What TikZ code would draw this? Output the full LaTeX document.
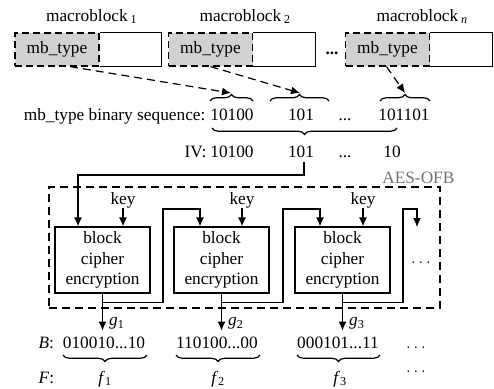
\documentclass[tikz,border=0pt]{standalone}
\usepackage{fontspec}
\setmainfont{Liberation Serif}
\usetikzlibrary{arrows.meta,decorations.pathreplacing,calc}

\begin{document}
\begin{tikzpicture}[x=1pt,y=-1pt,
  font=\fontsize{17.3}{20.5}\selectfont,
  line width=1.2pt,
  arr/.style={-{Latex[length=9pt,width=8pt]}},
  dasharr/.style={arr,dash pattern=on 8pt off 5pt},
  mbt/.style={draw,dash pattern=on 7pt off 4pt,fill=black!18,
    minimum width=84pt,minimum height=33pt,inner sep=0pt},
  mbrest/.style={minimum width=61pt,minimum height=33pt,inner sep=0pt},
  cipher/.style={draw,minimum width=95pt,minimum height=66pt,
    align=center,inner sep=0pt},
  brc/.style={decorate,decoration={brace,amplitude=6.5pt}},
  txt/.style={anchor=base,inner sep=1pt},
]
\useasboundingbox (0,0) rectangle (494,388);

% ---- macroblocks ----
\foreach \i/\cx/\sub in {1/57/1, 2/210.5/2, n/387.5/\textit{n}}{
  \node[mbt] (t\i) at (\cx,49.5) {mb\_type};
  \node[mbrest,anchor=west] (r\i) at (t\i.east) {};
  \draw (r\i.north west) -- (r\i.north east) -- (r\i.south east) -- (r\i.south west);
  \node[txt] (m\i) at ($(t\i.west)+(72.5,-28.5)$) {macroblock\rlap{\,\textsubscript{\sub}}};
}
\node[txt] (mdots) at (332,54) {\textbf{...}};

% ---- binary sequence ----
\node[anchor=base east,inner sep=1pt] (seqlbl) at (207,120) {mb\_type binary sequence:};
\node[txt] (s1) at (232,120) {10100};
\node[txt] (s2) at (301,120) {101};
\node[txt] (s3) at (345,120) {...};
\node[txt] (s4) at (404,120) {101101};

\coordinate (u1) at (231,93);
\coordinate (u2) at (300,93);
\coordinate (u3) at (405,93);
\draw[brc] (210,101) -- (253,101);
\draw[brc] (270,101) -- (329,101);
\draw[brc] (380,101) -- (430,101);
\draw[dasharr] ($(t1.south)+(13,0)$) -- (u1);
\draw[dasharr] (t2.south) -- (u2);
\draw[dasharr] ($(tn.south)+(-1,0)$) -- (u3);

\draw[brc] (397,128) -- (212,128);

% ---- IV ----
\node[anchor=base east,inner sep=1pt] (ivlbl) at (208,157) {IV:};
\node[txt] (iv1) at (232,157) {10100};
\node[txt] (iv2) at (301,157) {101};
\node[txt] (iv3) at (345,157) {...};
\node[txt] (iv4) at (392,157) {10};

% ---- AES-OFB ----
\node[draw,dash pattern=on 8pt off 5pt,minimum width=391pt,minimum height=121pt,inner sep=0pt]
  (ofb) at (244.5,247.5) {};
\node[anchor=base east,inner sep=0pt,text=black!55] (ofblbl) at (455,183) {AES-OFB};

\node[cipher] (b1) at (102.5,260) {block\\cipher\\encryption};
\node[cipher] (b2) at (221.5,260) {block\\cipher\\encryption};
\node[cipher] (b3) at (342.5,260) {block\\cipher\\encryption};

\foreach \i in {1,2,3}{
  \node[txt] (k\i) at ($(b\i.north)+(20.5,-22)$) {key};
  \draw[arr] ($(b\i.north)+(20.5,-18)$) -- ($(b\i.north)+(20.5,0)$);
}

\coordinate (ivout) at (304,162);
\draw[arr] (ivout) -- (304,175) -| ($(b1.north)+(-24.5,0)$);

\coordinate (fb1) at (163,209);
\coordinate (fb2) at (283,209);
\coordinate (fb3) at (403,209);
\draw[arr] ($(b1.south)+(0,9)$) -| (fb1) -| ($(b2.north)+(-21.5,0)$);
\draw[arr] ($(b2.south)+(0,9)$) -| (fb2) -| ($(b3.north)+(-22.5,0)$);
\draw[arr] ($(b3.south)+(0,9)$) -| (fb3) -| (417,227);
\node[txt] (odots) at (421,263) {$\ldots$};

% ---- keystream blocks ----
\node[anchor=base west,inner sep=1pt] (Blbl) at (37,348) {\textit{B}:};
\node[txt] (bv1) at (104,348) {010010...10};
\node[txt] (bv2) at (217,348) {110100...00};
\node[txt] (bv3) at (338,348) {000101...11};
\node[txt] (bdots) at (416,348) {$\ldots$};

\foreach \i in {1,2,3}{
  \draw[arr] (b\i.south) -- ($(b\i.south)+(0,37)$);
  \node[anchor=base west,inner sep=1pt] (g\i) at ($(b\i.south)+(5,32)$) {\textit{g}\textsubscript{\i}};
}

\draw[brc] (147,355) -- (63,355);
\draw[brc] (260,355) -- (176,355);
\draw[brc] (380,355) -- (297,355);

\node[anchor=base west,inner sep=1pt] (Flbl) at (37,383) {\textit{F}:};
\node[txt] (f1) at (105,383) {\textit{f}\textsubscript{1}};
\node[txt] (f2) at (218,383) {\textit{f}\textsubscript{2}};
\node[txt] (f3) at (340,383) {\textit{f}\textsubscript{3}};
\node[txt] (fdots) at (416,372) {$\ldots$};
\end{tikzpicture}
\end{document}
